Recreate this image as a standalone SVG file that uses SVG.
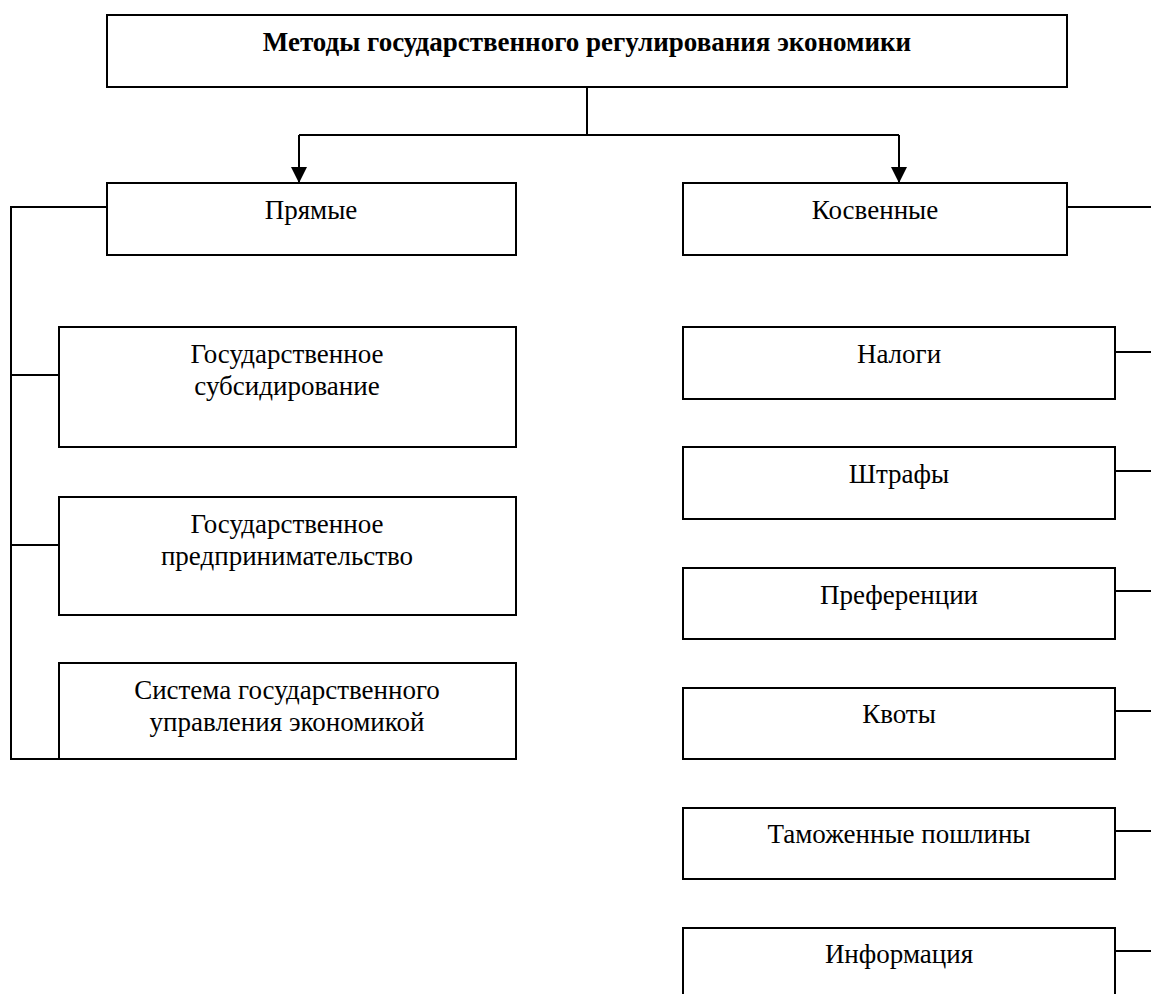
<svg xmlns="http://www.w3.org/2000/svg" width="1151" height="994" viewBox="0 0 1151 994">
<style>
.box{fill:#fff;stroke:#000;stroke-width:2}
.ln{fill:none;stroke:#000;stroke-width:2}
text{font-family:"Liberation Serif","Times New Roman",serif;font-size:27px;fill:#000;text-anchor:middle}
.b{font-weight:bold;font-size:27px}
</style>
<defs>
<marker id="ah" markerWidth="16" markerHeight="16" refX="15" refY="8" orient="auto" markerUnits="userSpaceOnUse">
<path d="M0,0 L16,8 L0,16 Z" fill="#000"/>
</marker>
</defs>
<rect width="1151" height="994" fill="#fff"/>
<g id="connectors">
<path class="ln" d="M587,87 V135"/>
<path class="ln" d="M299,135 H899"/>
<path class="ln" d="M299,135 V182" marker-end="url(#ah)"/>
<path class="ln" d="M899,135 V182" marker-end="url(#ah)"/>
<path class="ln" d="M107,207 H11 V759 H59"/>
<path class="ln" d="M11,375 H59"/>
<path class="ln" d="M11,545 H59"/>
<path class="ln" d="M1067,207 H1151"/>
<path class="ln" d="M1115,352 H1151"/>
<path class="ln" d="M1115,471 H1151"/>
<path class="ln" d="M1115,591 H1151"/>
<path class="ln" d="M1115,711 H1151"/>
<path class="ln" d="M1115,831 H1151"/>
<path class="ln" d="M1115,951 H1151"/>
</g>
<g id="root"><rect class="box" x="107" y="15" width="960" height="72"/><text class="b" x="587" y="51">Методы государственного регулирования экономики</text></g>
<g id="direct"><rect class="box" x="107" y="183" width="409" height="72"/><text x="311" y="219">Прямые</text></g>
<g id="indirect"><rect class="box" x="683" y="183" width="384" height="72"/><text x="875" y="219">Косвенные</text></g>
<g id="subsidy"><rect class="box" x="59" y="327" width="457" height="120"/><text x="287" y="363">Государственное</text><text x="287" y="395">субсидирование</text></g>
<g id="enterprise"><rect class="box" x="59" y="497" width="457" height="118"/><text x="287" y="533">Государственное</text><text x="287" y="565">предпринимательство</text></g>
<g id="system"><rect class="box" x="59" y="663" width="457" height="96"/><text x="287" y="699">Система государственного</text><text x="287" y="731">управления экономикой</text></g>
<g id="taxes"><rect class="box" x="683" y="327" width="432" height="72"/><text x="899" y="363">Налоги</text></g>
<g id="fines"><rect class="box" x="683" y="447" width="432" height="72"/><text x="899" y="483">Штрафы</text></g>
<g id="prefs"><rect class="box" x="683" y="568" width="432" height="71"/><text x="899" y="604">Преференции</text></g>
<g id="quotas"><rect class="box" x="683" y="688" width="432" height="71"/><text x="899" y="723">Квоты</text></g>
<g id="customs"><rect class="box" x="683" y="808" width="432" height="71"/><text x="899" y="843">Таможенные пошлины</text></g>
<g id="info"><rect class="box" x="683" y="928" width="432" height="80"/><text x="899" y="963">Информация</text></g>
</svg>
